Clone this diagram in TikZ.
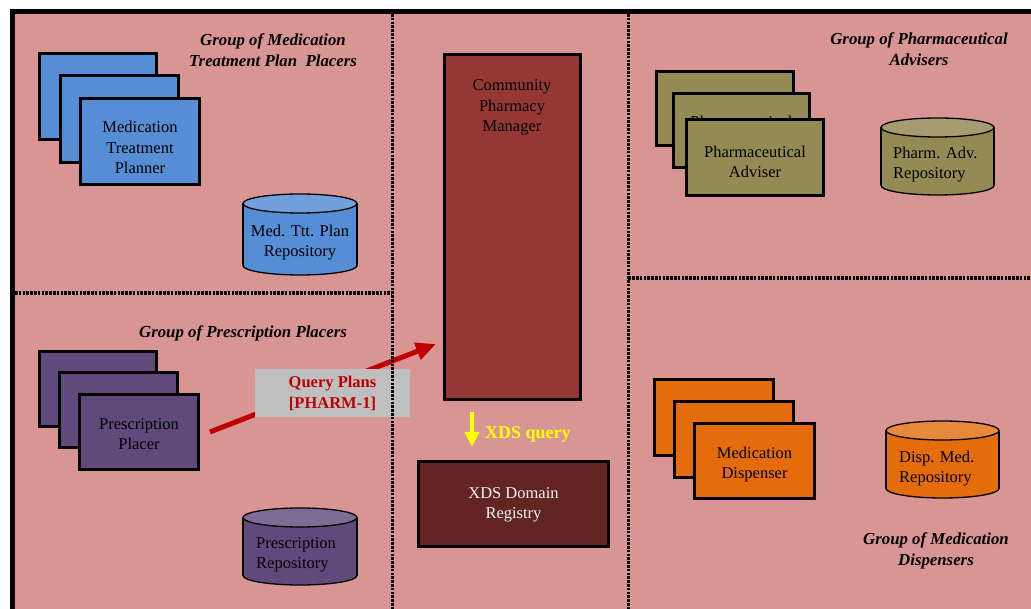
\documentclass[tikz,border=0pt]{standalone}
\usepackage{fontspec}
\setmainfont{Liberation Serif}
\usetikzlibrary{arrows.meta}
\definecolor{bgpink}{HTML}{D99594}
\definecolor{cblue}{HTML}{558ED5}
\definecolor{cbluetop}{HTML}{72A0DC}
\definecolor{colive}{HTML}{948A54}
\definecolor{colivetop}{HTML}{A59D70}
\definecolor{cpurple}{HTML}{604A7B}
\definecolor{cpurpletop}{HTML}{7D6C94}
\definecolor{corange}{HTML}{E46C0A}
\definecolor{corangetop}{HTML}{E8883A}
\definecolor{cmanager}{HTML}{953735}
\definecolor{cregistry}{HTML}{632523}
\definecolor{clabel}{HTML}{BFBFBF}
\definecolor{cred}{HTML}{C00000}
\definecolor{cyellow}{HTML}{FFFF00}
\definecolor{cwhite}{HTML}{F2F2F2}
\newcommand\myBody{\fontsize{16.5}{20.3}\selectfont}
\newcommand\myTitle{\fontsize{16.8}{21}\selectfont\bfseries\itshape}
\newcommand\mycyl[6]{%
  \filldraw[cylline, fill=#5] ({(#1+#2)/2},{#4-9.5}) ellipse[x radius={(#2-#1)/2}, y radius=9.5];
  \fill[#5] (#1,{#3+9.5}) rectangle (#2,{#4-9.5});
  \draw[cylline] (#1,{#3+9.5}) -- (#1,{#4-9.5}) (#2,{#3+9.5}) -- (#2,{#4-9.5});
  \filldraw[cylline, fill=#6] ({(#1+#2)/2},{#3+9.5}) ellipse[x radius={(#2-#1)/2}, y radius=9.5];
}
\begin{document}
\begin{tikzpicture}[x=1pt,y=-1pt,
  box/.style={draw=black, line width=3pt, inner sep=0pt},
  btext/.style={inner sep=0pt, align=center, font=\myBody, text=black},
  cylline/.style={draw=black, line width=1.3pt},
  gtitle/.style={inner sep=0pt, align=center, font=\myTitle, text=black},
  dotline/.style={line width=3.6pt, dash pattern=on 2.6pt off 1.2pt, line cap=butt},
  qarrow/.style={draw=cred, line width=5pt, -{Triangle[length=20pt,width=17pt]}},
  yarrow/.style={draw=cyellow, line width=4pt, -{Triangle[length=15pt,width=14pt]}}
]
\useasboundingbox (0,0) rectangle (1031,609);
\clip (0,0) rectangle (1031,609);
\fill[white] (0,0) rectangle (1031,609);
\filldraw[fill=bgpink, draw=black, line width=4.5pt] (12.5,11.7) rectangle (1050,630);

% group titles
\node[gtitle] (t1) at (273,50) {Group of Medication\\Treatment Plan\ \ Placers};
\node[gtitle] (t2) at (919,49.5) {Group of Pharmaceutical\\Advisers};
\node[gtitle] (t3) at (243,333.5) {Group of Prescription Placers};
\node[gtitle] (t4) at (936,551) {Group of Medication\\Dispensers};

% medication treatment planners
\node[box, fill=cblue, minimum width=117pt, minimum height=86pt] (mtp1) at (98,96.5) {};
\node[box, fill=cblue, minimum width=118pt, minimum height=87pt] (mtp2) at (119.5,119) {};
\node[box, fill=cblue, minimum width=119pt, minimum height=86pt] (mtp3) at (140,141.5) {};
\node[btext] (mtp3text) at (140,147.5) {Medication\\Treatment\\Planner};

% pharmaceutical advisers
\node[box, fill=colive, minimum width=137pt, minimum height=74pt] (pa1) at (725,108.5) {};
\node[box, fill=colive, minimum width=136pt, minimum height=74pt] (pa2) at (741.5,130.5) {};
\node[btext] (pa2text) at (741.5,132.5) {Pharmaceutical\\Adviser};
\node[box, fill=colive, minimum width=137pt, minimum height=76pt] (pa3) at (755,157.5) {};
\node[btext] (pa3text) at (755,162) {Pharmaceutical\\Adviser};

% prescription placers
\node[box, fill=cpurple, minimum width=117pt, minimum height=75pt] (pp1) at (98,389) {};
\node[box, fill=cpurple, minimum width=118pt, minimum height=75pt] (pp2) at (118.5,410) {};
\node[box, fill=cpurple, minimum width=119pt, minimum height=75pt] (pp3) at (139,432) {};
\node[btext] (pp3text) at (139,434) {Prescription\\Placer};

% medication dispensers
\node[box, fill=corange, minimum width=119pt, minimum height=76pt] (md1) at (714,417.5) {};
\node[box, fill=corange, minimum width=119pt, minimum height=76pt] (md2) at (734,439.5) {};
\node[box, fill=corange, minimum width=120pt, minimum height=75pt] (md3) at (754.5,461) {};
\node[btext] (md3text) at (754.5,464.5) {Medication\\Dispenser};

% repositories
\mycyl{243}{357}{194}{275}{cblue}{cbluetop}
\node[btext] (mtprep) at (300,242.5) {Med. Ttt. Plan\\Repository};
\mycyl{881}{994}{118}{195}{colive}{colivetop}
\node[btext, align=left, anchor=west] (parep) at (893,164.5) {Pharm. Adv.\\Repository};
\mycyl{243}{357}{508}{585}{cpurple}{cpurpletop}
\node[btext, align=left, anchor=west] (pprep) at (256,555) {Prescription\\Repository};
\mycyl{886}{999}{421}{498}{corange}{corangetop}
\node[btext, align=left, anchor=west] (mdrep) at (899,468.5) {Disp. Med.\\Repository};

% community pharmacy manager
\node[box, fill=cmanager, minimum width=136pt, minimum height=345pt] (cpm) at (512.5,227) {};
\node[btext] (cpmtext) at (512,107.5) {Community\\Pharmacy\\Manager};

% XDS domain registry
\node[box, fill=cregistry, minimum width=190pt, minimum height=85pt] (xds) at (513.5,504) {};
\node[btext, text=cwhite] (xdstext) at (513.5,504.5) {XDS Domain\\Registry};

% query arrow
\coordinate (qend) at (436,344);
\draw[qarrow] ([xshift=10pt]pp3.east) -- (qend);
\node[fill=clabel, minimum width=155pt, minimum height=48pt, inner sep=0pt, align=center,
      font=\fontsize{16.5}{20.5}\selectfont\bfseries, text=cred] (qlabel) at (332.5,393.5) {Query Plans\\{}[PHARM-1]};

% XDS query arrow
\coordinate (ystart) at (472,412);
\coordinate (yend) at (472,447);
\draw[yarrow] (ystart) -- (yend);
\node[inner sep=0pt, anchor=west, font=\fontsize{18}{21}\selectfont\bfseries, text=cyellow] (xdsq) at (485,434) {XDS query};

% dotted separators
\draw[dotline] (392.3,14) -- (392.3,612);
\draw[dotline] (628.3,14) -- (628.3,612);
\draw[dotline] (15,293.3) -- (392.3,293.3);
\draw[dotline] (628.3,278.3) -- (1034,278.3);
\end{tikzpicture}
\end{document}
